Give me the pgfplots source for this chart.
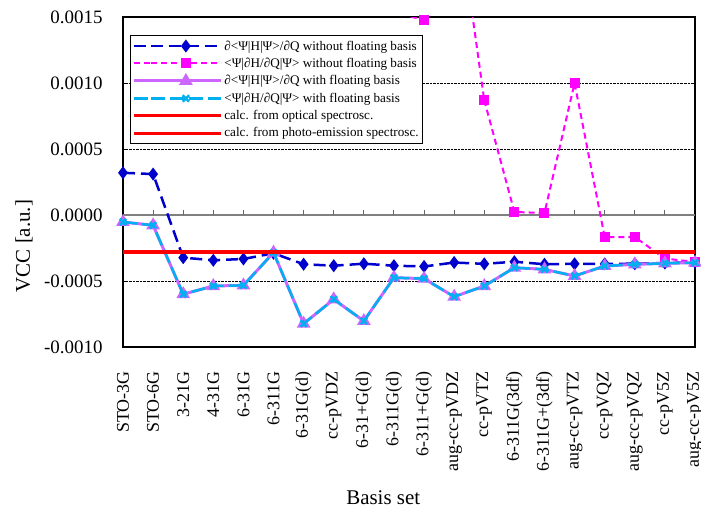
\documentclass[border=0pt]{standalone}
\usepackage{fontspec}
\setmainfont{Liberation Serif}
\usepackage{pgfplots}
\pgfplotsset{compat=1.18}
\definecolor{cblue}{RGB}{0,0,204}
\definecolor{cmag}{RGB}{255,0,255}
\definecolor{cvio}{RGB}{204,102,255}
\definecolor{ccyan}{RGB}{0,176,240}
\definecolor{cred}{RGB}{255,0,0}
\begin{document}
\begin{tikzpicture}
\begin{axis}[
 scale only axis, width=572bp, height=330bp,
 xmin=0, xmax=19, ymin=-0.001, ymax=0.0015,
 clip mode=individual,
 xtick={0,...,19},
 xticklabels={STO-3G,STO-6G,3-21G,4-31G,6-31G,6-311G,6-31G(d),cc-pVDZ,6-31+G(d),6-311G(d),6-311+G(d),aug-cc-pVDZ,cc-pVTZ,6-311G(3df),6-311G+(3df),aug-cc-pVTZ,cc-pVQZ,aug-cc-pVQZ,cc-pV5Z,aug-cc-pV5Z},
 x tick style={draw=none},
 xticklabel style={yshift=-2bp, rotate=90, anchor=east, font=\fontsize{18}{20}\selectfont},
 xticklabel shift=19bp,
 ytick={-0.001,-0.0005,0,0.0005,0.001,0.0015},
 scaled y ticks=false,
 yticklabel style={/pgf/number format/.cd, fixed, fixed zerofill, precision=4, assume math mode=true, /tikz/.cd, xshift=-17bp, font=\fontsize{19}{21}\selectfont},
 ytick pos=left, tick align=inside, major tick length=5bp,
 y tick style={black, line width=1bp},
 ymajorgrids, grid style={black, densely dotted, line width=0.8bp},
 axis line style={black, line width=1.2bp},
 xlabel={Basis set}, ylabel={VCC [a.u.]},
 label style={font=\fontsize{21}{23}\selectfont},
 xlabel style={at={([yshift=-157bp]rel axis cs:0.455,0)}, anchor=base},
 ylabel style={at={([xshift=-93bp]rel axis cs:0,0.306)}, anchor=base},
 legend style={at={(0.0122,0.945)}, anchor=north west, font=\fontsize{13.2}{15}\selectfont, draw=black, line width=0.8bp, fill=white, row sep=2.5bp, inner xsep=2bp, inner ysep=3bp},
 legend cell align=left,
 legend image code/.code={\path (-17bp,0bp) -- (0bp,0bp); \draw[mark repeat=2,mark phase=2] plot coordinates {(0bp,0bp) (35bp,0bp) (70bp,0bp)};},
]
% zero line with ticks
\addplot[gray, line width=1.3bp, forget plot] coordinates {(0,0) (19,0)};
\pgfplotsinvokeforeach{1,...,18}{\draw[gray!80!black, line width=1bp] (axis cs:#1,0) -- ([yshift=5bp]axis cs:#1,0);}

\addplot[cblue, line width=2.5bp, dash pattern=on 12bp off 6bp, mark=diamond*, mark size=4.5bp, mark options={solid}] coordinates {
(0,0.00032) (1,0.00031) (2,-0.000323) (3,-0.000343) (4,-0.000333) (5,-0.00029) (6,-0.000373) (7,-0.000384) (8,-0.000369) (9,-0.000384) (10,-0.00039) (11,-0.00036) (12,-0.00037) (13,-0.000354) (14,-0.000373) (15,-0.00037) (16,-0.00037) (17,-0.000369) (18,-0.000364) (19,-0.000358)};
\addlegendentry{∂<Ψ|H|Ψ>/∂Q without floating basis}

\addplot[cmag, line width=2bp, dash pattern=on 6bp off 4bp, forget plot] coordinates {
(0,0.0030) (1,0.0032) (2,0.0028) (3,0.0027) (4,0.0029) (5,0.0026) (6,0.0025) (7,0.0024) (8,0.0022) (9,0.00153) (10,0.00148) (11,0.0025) (12,0.00087)};
\addplot[cmag, line width=2bp, dash pattern=on 6bp off 4bp, mark=square*, mark size=4bp, mark options={solid}, unbounded coords=jump] coordinates {
(10,0.00148) (11,nan) (12,0.00087) (13,0.000023) (14,0.000015) (15,0.001) (16,-0.000167) (17,-0.000167) (18,-0.00033) (19,-0.000356)};
\addlegendentry{<Ψ|∂H/∂Q|Ψ> without floating basis}

\addplot[cvio, line width=3bp, mark=triangle*, mark size=5bp] coordinates {
(0,-0.000053) (1,-0.000078) (2,-0.0006) (3,-0.000538) (4,-0.000533) (5,-0.000285) (6,-0.000823) (7,-0.000639) (8,-0.000803) (9,-0.000475) (10,-0.000482) (11,-0.000619) (12,-0.000538) (13,-0.000399) (14,-0.000412) (15,-0.000462) (16,-0.000386) (17,-0.000374) (18,-0.000366) (19,-0.000361)};
\addlegendentry{∂<Ψ|H|Ψ>/∂Q with floating basis}

\addplot[ccyan, line width=2.5bp, dash pattern=on 14bp off 5bp, mark=x, mark size=4.5bp, mark options={solid, line width=2.5bp}] coordinates {
(0,-0.000053) (1,-0.000078) (2,-0.0006) (3,-0.000538) (4,-0.000533) (5,-0.000285) (6,-0.000823) (7,-0.000639) (8,-0.000803) (9,-0.000475) (10,-0.000482) (11,-0.000619) (12,-0.000538) (13,-0.000399) (14,-0.000412) (15,-0.000462) (16,-0.000386) (17,-0.000374) (18,-0.000366) (19,-0.000361)};
\addlegendentry{<Ψ|∂H/∂Q|Ψ> with floating basis}

\addplot[cred, line width=3bp] coordinates {(0,-0.000275) (19,-0.000275)};
\addlegendentry{calc. from optical spectrosc.}
\addplot[cred, line width=3bp] coordinates {(0,-0.000287) (19,-0.000287)};
\addlegendentry{calc. from photo-emission spectrosc.}
\end{axis}
\pgfresetboundingbox
\path ([shift={(-123bp,-159bp)}]current axis.south west) rectangle ([shift={(6bp,17bp)}]current axis.north east);
\end{tikzpicture}
\end{document}
